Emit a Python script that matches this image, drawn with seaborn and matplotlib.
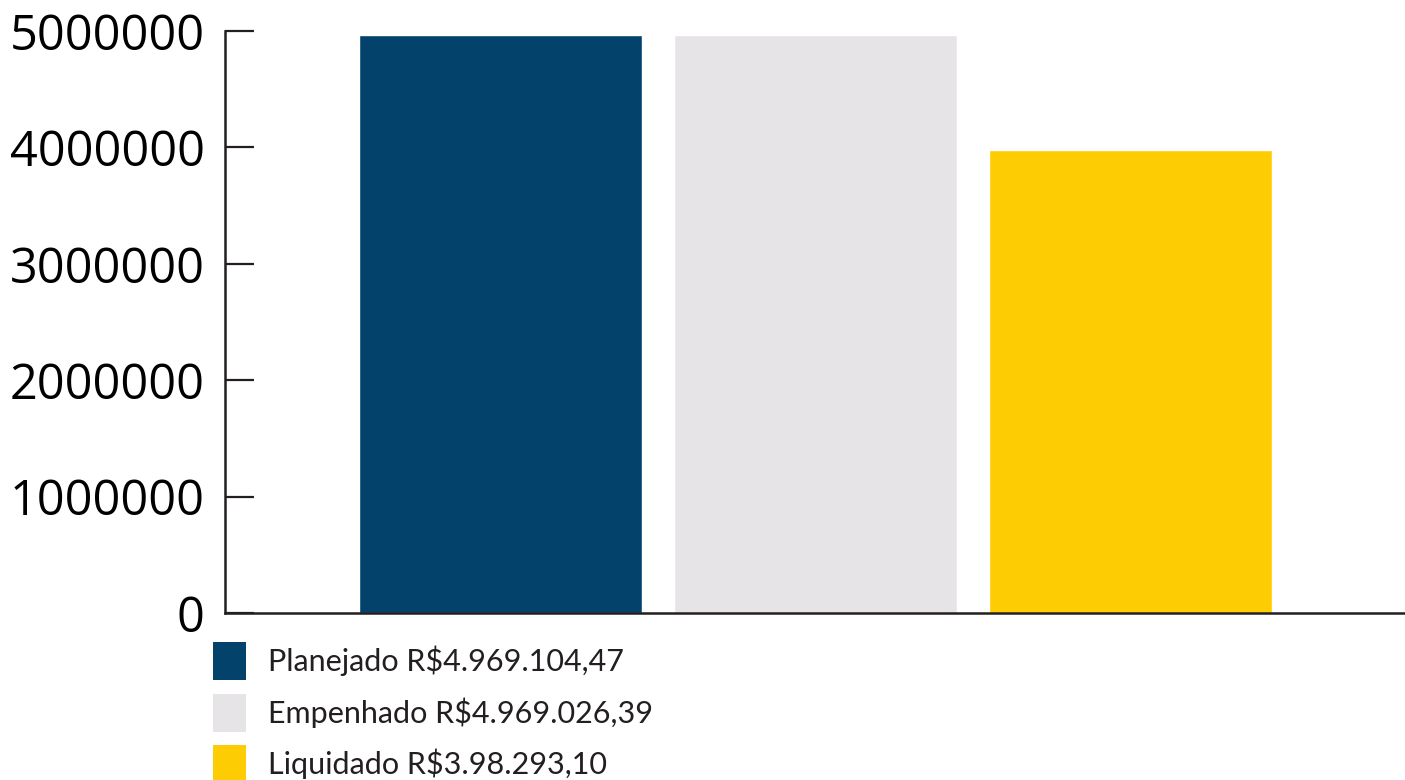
import matplotlib
matplotlib.use("Agg")
import matplotlib.pyplot as plt
from matplotlib.patches import Patch
import seaborn as sns
import pandas as pd

# Execution data (R$)
categorias = ["Planejado", "Empenhado", "Liquidado"]
valores = [4969104.47, 4969026.39, 3980293.10]
rotulos = ["Planejado R$4.969.104,47",
           "Empenhado R$4.969.026,39",
           "Liquidado R$3.98.293,10"]
cores = ["#03426a", "#e6e4e7", "#fecc03"]
ticks_y = [0, 1000000, 2000000, 3000000, 4000000, 5000000]

sns.set_theme(style="white")
plt.rcParams["font.family"] = ["Open Sans", "DejaVu Sans"]

W, H = 1405, 780
fig = plt.figure(figsize=(W / 100, H / 100), dpi=100)
ax = fig.add_axes([225 / W, 1 - 613 / H, (W - 225) / W, (613 - 31) / H])

df = pd.DataFrame({"categoria": categorias, "valor": valores})
sns.barplot(data=df, x="categoria", y="valor", hue="categoria",
            palette=cores, width=0.898, saturation=1, legend=False, ax=ax)

ax.set_ylim(0, 5000000)
ax.set_xlim(-0.875, 2.871)
ax.set_yticks(ticks_y)
ax.set_yticklabels([str(t) for t in ticks_y], fontsize=35, color="black")
ax.tick_params(axis="y", left=True, direction="in", length=21, width=1.6,
               color="#231f20", pad=14.5)
ax.set_xticks([])
ax.set_xlabel("")
ax.set_ylabel("")

for side in ["top", "right"]:
    ax.spines[side].set_visible(False)
for side in ["left", "bottom"]:
    ax.spines[side].set_color("#231f20")
    ax.spines[side].set_linewidth(1.8)

handles = [Patch(facecolor=c, edgecolor="none") for c in cores]
fig.legend(handles, rotulos, loc="upper left",
           bbox_to_anchor=(201 / W, 1 - 630 / H),
           frameon=False,
           prop={"family": ["Lato", "DejaVu Sans"], "size": 22},
           labelcolor="#231f20",
           handlelength=1.08, handleheight=1.55,
           handletextpad=0.72, labelspacing=0.43, borderaxespad=0)

fig.savefig("out.png", dpi=100)
